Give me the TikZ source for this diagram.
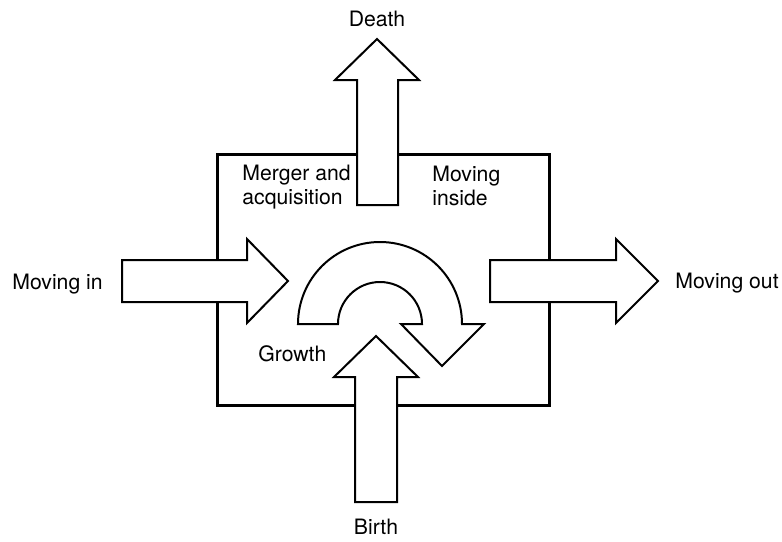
\documentclass[tikz,border=0pt]{standalone}
\usepackage{fontspec}
\setmainfont{TeX Gyre Heros}
\usepackage{tikz}
\usetikzlibrary{calc}

\begin{document}
\begin{tikzpicture}[
  x=0.5pt, y=-0.5pt,
  frame/.style={draw, line width=1.5pt, line join=miter},
  blk/.style={draw, fill=white, line width=1pt, line join=miter},
  lbl/.style={font=\fontsize{10.6}{12}\selectfont, inner sep=0pt, align=left, anchor=base west},
]
\useasboundingbox (0,0) rectangle (782,541);

% The firm's region
\draw[frame] (217,154) rectangle (549,405);

% Straight block arrows (white fill cuts the frame)
\draw[blk] (357,205) -- (357,80) -- (335,80) -- (377,39) -- (419,80) -- (398,80) -- (398,205) -- cycle;
\draw[blk] (122,260) -- (247,260) -- (247,239) -- (288,281) -- (247,323) -- (247,302) -- (122,302) -- cycle;
\draw[blk] (490,260) -- (616,260) -- (616,239) -- (658,281) -- (616,323) -- (616,302) -- (490,302) -- cycle;
\draw[blk] (355,502) -- (355,377) -- (334,377) -- (376,336) -- (418,377) -- (397,377) -- (397,502) -- cycle;

% Curved arrow: moving inside
\draw[blk] (298,324) arc[start angle=180, end angle=360, radius=82]
  -- (484,324) -- (442,366) -- (401,324) -- (422,324)
  arc[start angle=360, end angle=180, radius=42] -- cycle;

% Labels
\node[lbl, anchor=base] (death) at (377,26) {Death};
\node[lbl, anchor=base] (birth) at (376,534) {Birth};
\node[lbl] (movein) at (12,289) {Moving in};
\node[lbl] (moveout) at (675,288) {Moving out};
\node[lbl] (merger) at (242,204) {Merger and\\acquisition};
\node[lbl] (inside) at (432,205) {Moving\\inside};
\node[lbl] (growth) at (258,361) {Growth};

\end{tikzpicture}
\end{document}
